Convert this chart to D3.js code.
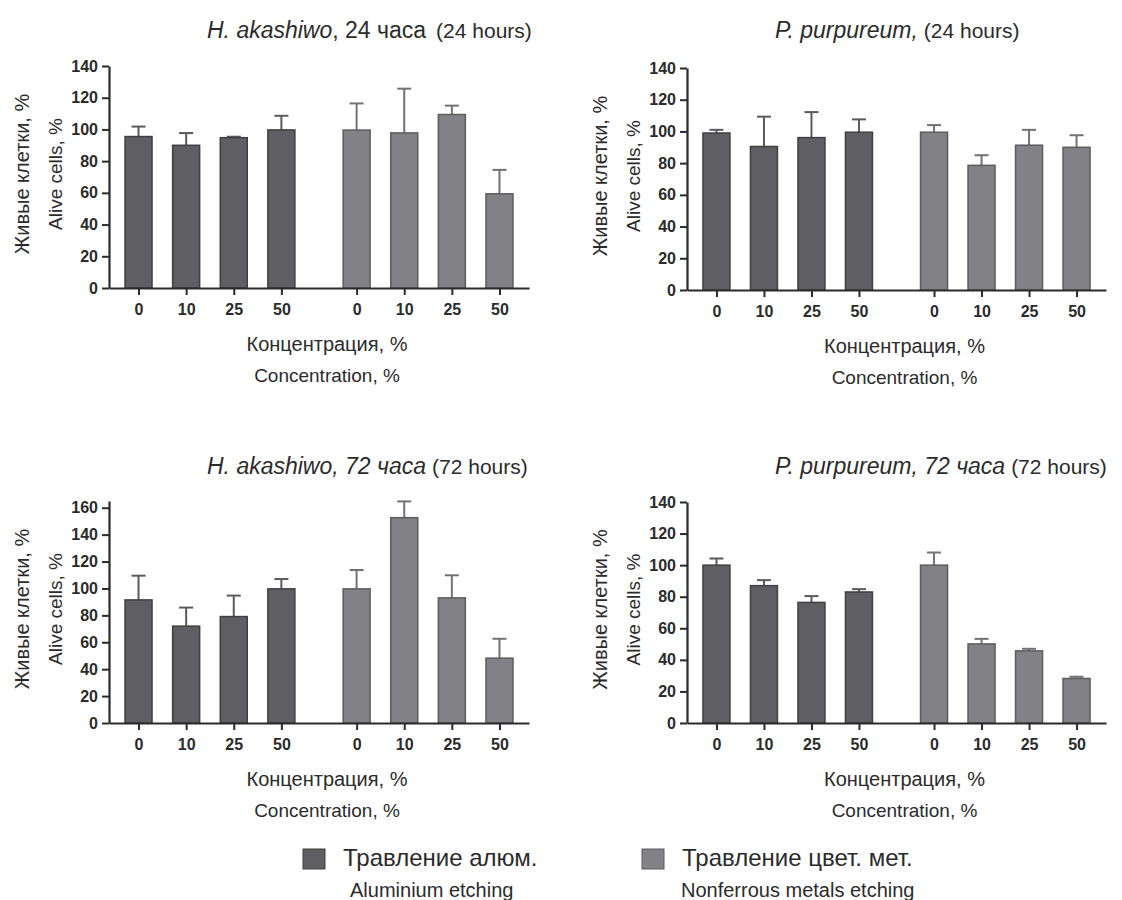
<!DOCTYPE html>
<html>
<head>
<meta charset="utf-8">
<script src="https://cdn.jsdelivr.net/npm/d3@7"></script>
<style>
  body { margin: 0; background: #fff; }
  svg text { font-family: "Liberation Sans", Arial, sans-serif; fill: #2b2b2b; }
</style>
</head>
<body>
<svg class="chart"></svg>
<script>
const size = {w: 1122, h: 900};

// x categories, same in every panel
const concLabels = ['0', '10', '25', '50'];
const seriesNames = ['Травление алюм.', 'Травление цвет. мет.'];
const seriesNamesEn = ['Aluminium etching', 'Nonferrous metals etching'];

// H. akashiwo, 24 h
const hak24Al = [95.5, 90, 94.8, 99.7];
const hak24AlErr = [6.3, 7.7, 0.6, 8.9];
const hak24Nf = [99.6, 97.8, 109.4, 59.4];
const hak24NfErr = [16.8, 27.9, 5.6, 15.1];

// P. purpureum, 24 h
const ppu24Al = [99, 90.5, 96.1, 99.5];
const ppu24AlErr = [2, 18.8, 16.1, 8.1];
const ppu24Nf = [99.5, 78.6, 91.3, 90];
const ppu24NfErr = [4.5, 6.4, 9.7, 7.6];

// H. akashiwo, 72 h
const hak72Al = [91.5, 72, 79.1, 99.7];
const hak72AlErr = [18, 13.8, 15.6, 7.3];
const hak72Nf = [99.7, 152.6, 93, 48.2];
const hak72NfErr = [14, 12.1, 16.8, 14.4];

// P. purpureum, 72 h
const ppu72Al = [100, 87, 76.4, 83];
const ppu72AlErr = [4.2, 3.5, 4, 1.8];
const ppu72Nf = [100, 50.1, 45.7, 28.2];
const ppu72NfErr = [8, 3.2, 1.3, 1.1];

const ticks140 = [0, 20, 40, 60, 80, 100, 120, 140];
const ticks160 = [0, 20, 40, 60, 80, 100, 120, 140, 160];

const fills = ['#5f5f63', '#828286'];
const strokes = ['#404043', '#5c5c60'];
const errColors = ['#5a5a5d', '#727276'];

// second group is shifted a bit more than one step
const groupShift = 4.58;

const svg = d3.select('svg.chart')
    .attr('width', size.w)
    .attr('height', size.h);

const panels = [
    {
        title: [{t: 'H. akashiwo', i: true}, {t: ', 24 часа'}, {t: '(24 hours)', s: 21, dx: 10}],
        al: hak24Al, alErr: hak24AlErr, nf: hak24Nf, nfErr: hak24NfErr,
        ticks: ticks140, yMax: 140,
        left: 109, right: 529, top: 66, bottom: 288, titleX: 207, titleY: 38
    },
    {
        title: [{t: 'P. purpureum,', i: true}, {t: '(24 hours)', s: 21, dx: 6}],
        al: ppu24Al, alErr: ppu24AlErr, nf: ppu24Nf, nfErr: ppu24NfErr,
        ticks: ticks140, yMax: 140,
        left: 687, right: 1106, top: 68, bottom: 290, titleX: 775, titleY: 38
    },
    {
        title: [{t: 'H. akashiwo, 72 часа', i: true}, {t: '(72 hours)', s: 21, dx: 6}],
        al: hak72Al, alErr: hak72AlErr, nf: hak72Nf, nfErr: hak72NfErr,
        ticks: ticks160, yMax: 165,
        left: 109, right: 529, top: 501, bottom: 723, titleX: 207, titleY: 474
    },
    {
        title: [{t: 'P. purpureum, 72 часа', i: true}, {t: '(72 hours)', s: 21, dx: 6}],
        al: ppu72Al, alErr: ppu72AlErr, nf: ppu72Nf, nfErr: ppu72NfErr,
        ticks: ticks140, yMax: 140,
        left: 687, right: 1106, top: 502, bottom: 723, titleX: 775, titleY: 474
    }
];

panels.forEach(drawPanel);
drawLegend();

function drawPanel(p) {
    const g = svg.append('g').classed('panel', true);

    // 4 + 4 bars, indexed by slot
    const rows = [];
    concLabels.forEach((c, i) => {
        rows.push({slot: i, label: c, value: p.al[i], err: p.alErr[i], s: 0});
    });
    concLabels.forEach((c, i) => {
        rows.push({slot: i + groupShift, label: c, value: p.nf[i], err: p.nfErr[i], s: 1});
    });

    const x = d3.scaleLinear()
        .domain([-0.62, 8.2])
        .range([p.left, p.right]);
    const y = d3.scaleLinear()
        .domain([0, p.yMax])
        .range([p.bottom, p.top]);
    const barW = 27;

    // error bars (upper whisker only) go under the bars
    g.selectAll('line.err')
        .data(rows)
        .join('line')
        .classed('err', true)
        .attr('x1', d => x(d.slot))
        .attr('x2', d => x(d.slot))
        .attr('y1', d => y(d.value))
        .attr('y2', d => y(d.value + d.err))
        .attr('stroke', d => errColors[d.s])
        .attr('stroke-width', 2);
    g.selectAll('line.cap')
        .data(rows)
        .join('line')
        .classed('cap', true)
        .attr('x1', d => x(d.slot) - 7)
        .attr('x2', d => x(d.slot) + 7)
        .attr('y1', d => y(d.value + d.err))
        .attr('y2', d => y(d.value + d.err))
        .attr('stroke', d => errColors[d.s])
        .attr('stroke-width', 2);

    g.selectAll('rect.bar')
        .data(rows)
        .join('rect')
        .classed('bar', true)
        .attr('x', d => x(d.slot) - barW / 2)
        .attr('width', barW)
        .attr('y', d => y(d.value))
        .attr('height', d => y(0) - y(d.value))
        .attr('fill', d => fills[d.s])
        .attr('stroke', d => strokes[d.s])
        .attr('stroke-width', 1.5);

    // axes
    const yAxis = g.append('g')
        .attr('transform', `translate(${p.left},0)`)
        .call(d3.axisLeft(y).tickValues(p.ticks).tickSize(7).tickSizeOuter(0).tickPadding(4));
    const xAxis = g.append('g')
        .attr('transform', `translate(0,${p.bottom})`)
        .call(d3.axisBottom(x)
            .tickValues(rows.map(d => d.slot))
            .tickFormat((d, i) => rows[i].label)
            .tickSize(7).tickSizeOuter(0).tickPadding(9));

    [yAxis, xAxis].forEach(a => {
        a.select('.domain').attr('stroke', '#2b2b2b').attr('stroke-width', 2.2);
        a.selectAll('.tick line').attr('stroke', '#2b2b2b').attr('stroke-width', 2);
        a.selectAll('.tick text')
            .attr('fill', '#2b2b2b')
            .style('font-size', '16px')
            .style('font-weight', 'bold')
            .style('font-family', '"Liberation Sans", Arial, sans-serif');
    });

    // title
    const title = g.append('text')
        .attr('x', p.titleX)
        .attr('y', p.titleY)
        .style('font-size', '23px');
    title.selectAll('tspan')
        .data(p.title)
        .join('tspan')
        .attr('dx', d => d.dx || 0)
        .style('font-style', d => d.i ? 'italic' : 'normal')
        .style('font-size', d => (d.s || 23) + 'px')
        .text(d => d.t);

    // y labels
    const midY = (p.top + p.bottom) / 2 - 3;
    g.append('text')
        .attr('transform', `translate(${p.left - 80},${midY}) rotate(-90)`)
        .attr('text-anchor', 'middle')
        .style('font-size', '20px')
        .text('Живые клетки, %');
    g.append('text')
        .attr('transform', `translate(${p.left - 47},${midY}) rotate(-90)`)
        .attr('text-anchor', 'middle')
        .style('font-size', '19px')
        .text('Alive cells, %');

    // x labels
    const midX = (p.left + p.right) / 2 + 8;
    g.append('text')
        .attr('x', midX)
        .attr('y', p.bottom + 63)
        .attr('text-anchor', 'middle')
        .style('font-size', '20px')
        .text('Концентрация, %');
    g.append('text')
        .attr('x', midX)
        .attr('y', p.bottom + 94)
        .attr('text-anchor', 'middle')
        .style('font-size', '19px')
        .text('Concentration, %');
}

function drawLegend() {
    const items = [
        {x: 303, name: seriesNames[0], en: seriesNamesEn[0], s: 0},
        {x: 642, name: seriesNames[1], en: seriesNamesEn[1], s: 1}
    ];
    const lg = svg.append('g').classed('legend', true);
    const item = lg.selectAll('g.item')
        .data(items)
        .join('g')
        .classed('item', true)
        .attr('transform', d => `translate(${d.x},0)`);

    item.append('rect')
        .attr('x', 0)
        .attr('y', 849)
        .attr('width', 22)
        .attr('height', 20)
        .attr('fill', d => fills[d.s])
        .attr('stroke', d => strokes[d.s]);
    item.append('text')
        .attr('x', 40)
        .attr('y', 866)
        .style('font-size', '24px')
        .text(d => d.name);
    item.append('text')
        .attr('x', d => d.s === 0 ? 47 : 39)
        .attr('y', 897)
        .style('font-size', '20px')
        .text(d => d.en);
}
</script>
</body>
</html>
